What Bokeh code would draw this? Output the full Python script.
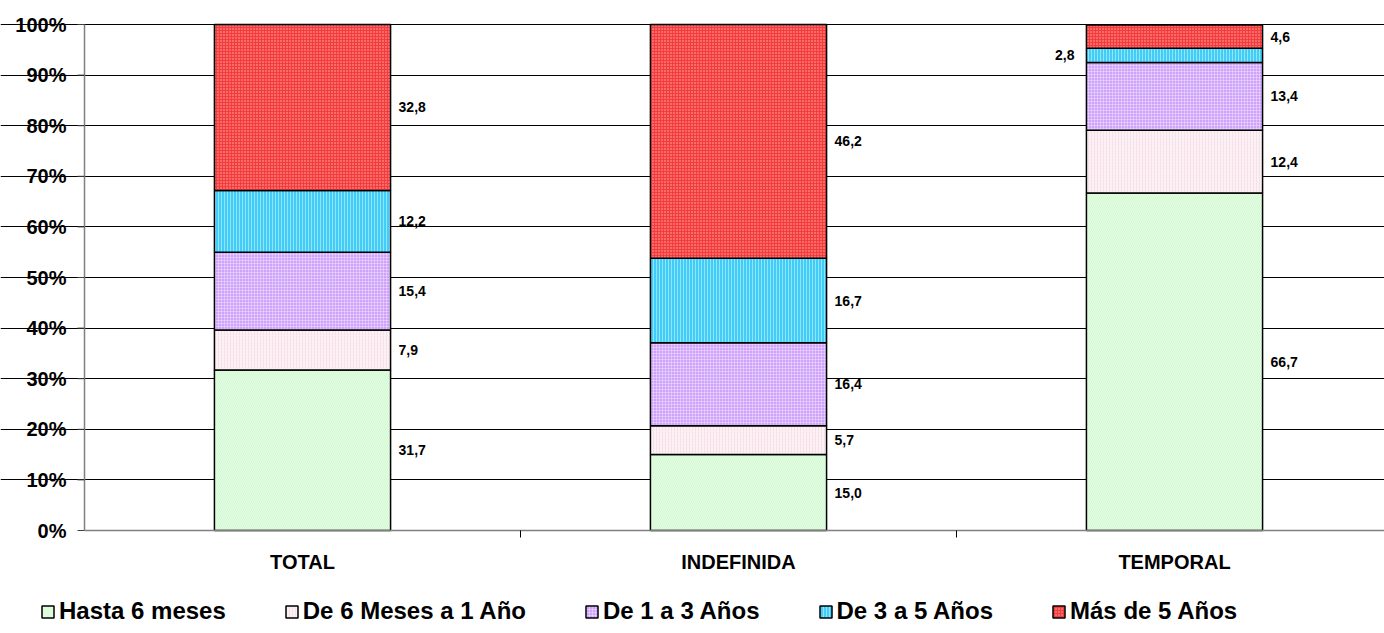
import math
from bokeh.plotting import figure
from bokeh.models import (Range1d, FixedTicker, Legend, LegendItem, Grid, ColumnDataSource)
from bokeh.core.properties import value
from bokeh.embed import file_html
from bokeh.resources import INLINE

categories = ["TOTAL", "INDEFINIDA", "TEMPORAL"]
series_names = ["Hasta 6 meses", "De 6 Meses a 1 Año", "De 1 a 3 Años", "De 3 a 5 Años", "Más de 5 Años"]
hasta_6_meses = [31.7, 15.0, 66.7]
de_6_meses_a_1 = [7.9, 5.7, 12.4]
de_1_a_3 = [15.4, 16.4, 13.4]
de_3_a_5 = [12.2, 16.7, 2.8]
mas_de_5 = [32.8, 46.2, 4.6]
y_ticks = [0, 10, 20, 30, 40, 50, 60, 70, 80, 90, 100]
y_tick_labels = ["%d%%" % t for t in y_ticks]

series = [hasta_6_meses, de_6_meses_a_1, de_1_a_3, de_3_a_5, mas_de_5]
styles = [
    dict(fill_color="#d2fad2", hatch_pattern="left_diagonal_line", hatch_color="#ffffff", hatch_alpha=0.7, hatch_scale=4, hatch_weight=0.6),
    dict(fill_color="#fbf0f4", hatch_pattern="vertical_dash", hatch_color="#f0c8d6", hatch_alpha=0.8, hatch_scale=3, hatch_weight=0.6),
    dict(fill_color="#cfa3fb", hatch_pattern="cross", hatch_color="#ffffff", hatch_alpha=0.55, hatch_scale=3, hatch_weight=0.6),
    dict(fill_color="#40cdf8", hatch_pattern="vertical_line", hatch_color="#ffffff", hatch_alpha=0.55, hatch_scale=3, hatch_weight=0.8),
    dict(fill_color="#f43c3c", hatch_pattern="dot", hatch_color="#ffffff", hatch_alpha=0.6, hatch_scale=3, hatch_weight=0.8),
]

FONT = "Liberation Sans"
BAR_W = 0.404
W, H = 1384, 633
PLOT_LEFT, PLOT_TOP, PLOT_BOTTOM = 84, 24, 530     # pixel geometry of the value area
PX_X = 436.0                                        # pixels per category
PX_Y = (PLOT_BOTTOM - PLOT_TOP) / 100.0             # pixels per percent
x0 = -PLOT_LEFT / PX_X
x1 = x0 + W / PX_X
y0 = -(H - PLOT_BOTTOM) / PX_Y
y1 = 100 + PLOT_TOP / PX_Y
xs = [i + 0.5 for i in range(len(categories))]

p = figure(width=W, height=H, output_backend="svg", toolbar_location=None,
           x_range=Range1d(x0, x1), y_range=Range1d(y0, y1),
           x_axis_location=None, y_axis_location=None,
           min_border_left=0, min_border_right=0, min_border_top=0, min_border_bottom=0)
p.outline_line_color = None
p.background_fill_color = "white"
p.border_fill_color = "white"
p.grid.visible = False

# horizontal gridlines (only across the value area)
p.add_layout(Grid(dimension=1, ticker=FixedTicker(ticks=y_ticks[1:]), bounds=(0, x1),
                  grid_line_color="black", grid_line_width=1))

# bars
items = []
bottoms = [0.0] * len(categories)
lab_x, lab_y, lab_t, lab_align, lab_off = [], [], [], [], []
for si, (name, vals, st) in enumerate(zip(series_names, series, styles)):
    tops = [b + v for b, v in zip(bottoms, vals)]
    src = ColumnDataSource(dict(x=xs, bottom=list(bottoms), top=tops))
    r = p.vbar(x="x", bottom="bottom", top="top", width=BAR_W, source=src,
               line_color="black", line_width=1.5, **st)
    items.append(LegendItem(label=name, renderers=[r]))
    for ci, v in enumerate(vals):
        mid = bottoms[ci] + v / 2.0
        txt = ("%.1f" % v).replace(".", ",")
        if v < 4 and si < len(series) - 1:
            lab_x.append(xs[ci] - BAR_W / 2); lab_align.append("right"); lab_off.append(-12)
        else:
            lab_x.append(xs[ci] + BAR_W / 2); lab_align.append("left"); lab_off.append(8)
        lab_y.append(mid); lab_t.append(txt)
    bottoms = tops

lsrc = ColumnDataSource(dict(x=lab_x, y=lab_y, t=lab_t, a=lab_align, o=lab_off))
p.text(x="x", y="y", text="t", text_align="a", x_offset="o", source=lsrc,
       text_baseline="middle", text_font=value(FONT), text_font_style="bold",
       text_font_size="14px", text_color="black")

# y axis: line, ticks, labels
p.segment(x0=[0], y0=[0], x1=[0], y1=[100], line_color="#808080", line_width=1.5)
p.ray(x=[0] * len(y_ticks), y=y_ticks, length=7, length_units="screen", angle=math.pi,
      line_color="#404040", line_width=1)
p.text(x=[0] * len(y_ticks), y=y_ticks, text=y_tick_labels, x_offset=-18,
       text_align="right", text_baseline="middle", text_font=value(FONT),
       text_font_style="bold", text_font_size="20px", text_color="black")

# x axis: line, separator ticks, category labels
p.segment(x0=[0], y0=[0], x1=[x1], y1=[0], line_color="#808080", line_width=1.5)
seps = list(range(1, len(categories)))
p.ray(x=seps, y=[0] * len(seps), length=7, length_units="screen", angle=-math.pi / 2,
      line_color="black", line_width=1)
p.text(x=xs, y=[0] * len(xs), text=categories, y_offset=31,
       text_align="center", text_baseline="middle", text_font=value(FONT),
       text_font_style="bold", text_font_size="20px", text_color="black")

legend = Legend(items=items, orientation="horizontal", location=(40, 8),
                padding=0, margin=0, spacing=58, label_standoff=4,
                glyph_width=15, glyph_height=15, label_height=24,
                label_text_font=FONT, label_text_font_style="bold",
                label_text_font_size="24px", label_text_color="black",
                background_fill_alpha=0, border_line_color=None)
p.add_layout(legend, "center")

open("out.html", "w").write(file_html(p, INLINE))
